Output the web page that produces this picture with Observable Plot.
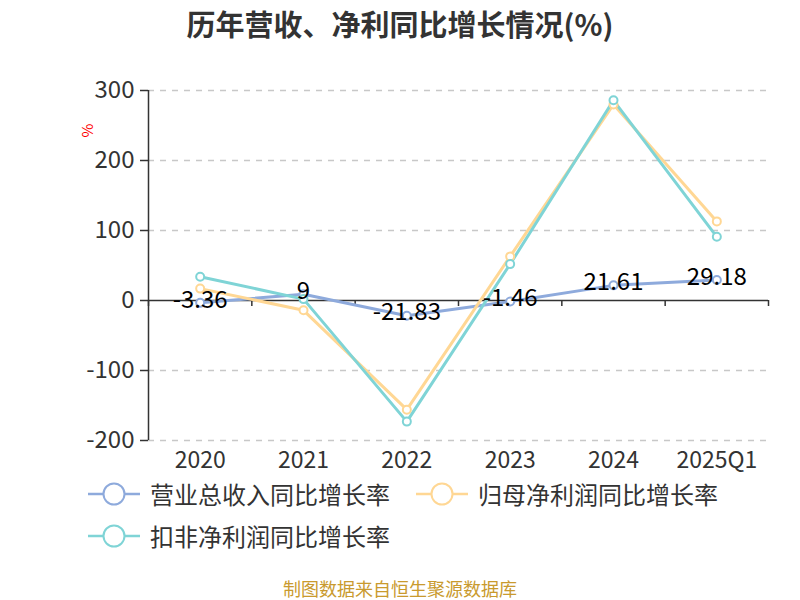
<!DOCTYPE html>
<html><head><meta charset="utf-8">
<script src="https://cdn.jsdelivr.net/npm/d3@7"></script>
<script src="https://cdn.jsdelivr.net/npm/@observablehq/plot@0.6"></script>
<style>
body{margin:0;width:800px;height:600px;background:#fff;font-family:"Noto Sans CJK SC","Noto Sans",sans-serif;overflow:hidden}
#title{height:50px;line-height:46px;text-align:center;font-size:29px;font-weight:bold;color:#333}
#chart svg{display:block}
#legend{margin-top:-17px;padding-left:88px;width:692px;display:flex;flex-wrap:wrap;column-gap:26px}
.item{display:flex;align-items:center;height:42px;font-size:24px;color:#333}
.item span{line-height:24px}
.item svg{margin-right:10px}
#caption{margin-top:19px;line-height:24px;text-align:center;font-size:18px;color:#c99a2e}
</style></head><body>
<div id="title">历年营收、净利同比增长情况(%)</div>
<div id="chart"></div>
<div id="legend"></div>
<div id="caption">制图数据来自恒生聚源数据库</div>
<script>
const categories = ["2020","2021","2022","2023","2024","2025Q1"];
const revenueGrowth = [-3.36, 9, -21.83, -1.46, 21.61, 29.18];
const netProfitGrowth = [17, -14, -156, 63, 280, 113];
const deductedProfitGrowth = [34, 2, -173, 52, 286, 91];
const yTicks = [-200, -100, 0, 100, 200, 300];
const seriesNames = ["营业总收入同比增长率","归母净利润同比增长率","扣非净利润同比增长率"];
const seriesColors = ["#8eaadc","#ffd794","#7fd4d6"];

const seriesValues = [revenueGrowth, netProfitGrowth, deductedProfitGrowth];
const data = [];
seriesValues.forEach((arr, s) => arr.forEach((v, i) => data.push({series: seriesNames[s], i, cat: categories[i], value: v})));
const boundaries = d3.range(categories.length + 1).map(i => i - 0.5);
const font = '"Noto Sans CJK SC","Noto Sans",sans-serif';

const chart = Plot.plot({
  width: 800, height: 440,
  marginTop: 40, marginBottom: 50, marginLeft: 148, marginRight: 32,
  style: {fontFamily: font, fontSize: "24px", color: "#333", background: "transparent"},
  x: {type: "linear", domain: [-0.5, categories.length - 0.5]},
  y: {domain: [-200, 300]},
  color: {domain: seriesNames, range: seriesColors},
  marks: [
    Plot.ruleY(yTicks.filter(v => v !== 0), {y: d => d, stroke: "#c8c8c8", strokeWidth: 1.5, strokeDasharray: "6,6"}),
    Plot.axisY({ticks: yTicks, tickFormat: d => String(d), tickSize: 8, tickPadding: 6, fontSize: 24, label: null, fill: "#333", strokeWidth: 1.5}),
    Plot.axisX({ticks: d3.range(categories.length), tickFormat: i => categories[i], tickSize: 0, tickPadding: 11, fontSize: 23, label: null, fill: "#333"}),
    Plot.ruleX([-0.5], {stroke: "#333", strokeWidth: 1.5}),
    Plot.ruleY([0], {stroke: "#333", strokeWidth: 1.5}),
    Plot.ruleX(boundaries, {x: d => d, y1: 0, y2: 0, insetBottom: -6, stroke: "#333", strokeWidth: 1.5}),
    Plot.line(data, {x: "i", y: "value", stroke: "series", z: "series", strokeWidth: 3}),
    Plot.dot(data, {x: "i", y: "value", stroke: "series", fill: "white", r: 4, strokeWidth: 2}),
    Plot.text(data.filter(d => d.series === seriesNames[0]), {x: "i", y: "value", text: d => String(d.value), dy: -3, fill: "#000", fontSize: 24, lineAnchor: "middle"}),
    Plot.text(["%"], {frameAnchor: "top-left", dx: -66, dy: 47, rotate: -90, fill: "red", fontSize: 15})
  ]
});
document.getElementById("chart").appendChild(chart);

const legend = d3.select("#legend");
seriesNames.forEach((name, k) => {
  const item = legend.append("div").attr("class", "item");
  const s = item.append("svg").attr("width", 52).attr("height", 26);
  s.append("line").attr("x1", 0).attr("x2", 52).attr("y1", 13).attr("y2", 13).attr("stroke", seriesColors[k]).attr("stroke-width", 2.5);
  s.append("circle").attr("cx", 26).attr("cy", 13).attr("r", 10.5).attr("fill", "white").attr("stroke", seriesColors[k]).attr("stroke-width", 2);
  item.append("span").text(name);
});
</script>
</body></html>
